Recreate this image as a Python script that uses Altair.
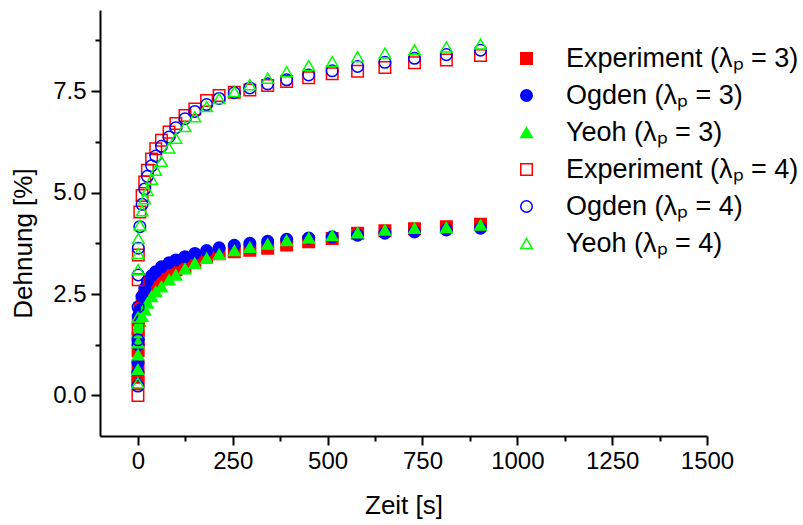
import altair as alt
import pandas as pd

# Measurement times [s] shared by all series
time_s = [0, 0.25, 0.5, 0.75, 1, 5, 11, 18, 25, 36, 47, 62, 82, 100, 124, 150,
          181, 214, 254, 295, 342, 392, 450, 512, 579, 651, 729, 813, 903]

# Strain [%] for pre-stretch lambda_p = 3
exp_3 = [0.45, 0.72, 1.10, 1.40, 1.85, 2.15, 2.32, 2.44, 2.56, 2.68, 2.78, 2.91, 3.03, 3.10, 3.18,
         3.30, 3.42, 3.49, 3.54, 3.58, 3.63, 3.71, 3.79, 3.87, 4.00, 4.06, 4.11, 4.16, 4.22]
ogden_3 = [0.56, 0.81, 1.25, 1.40, 1.95, 2.11, 2.44, 2.64, 2.81, 2.95, 3.05, 3.17, 3.27, 3.34, 3.42,
           3.50, 3.57, 3.64, 3.70, 3.75, 3.80, 3.85, 3.88, 3.91, 3.95, 4.00, 4.03, 4.08, 4.12]
yeoh_3 = [0.64, 1.00, 1.30, 1.55, 1.70, 1.82, 1.95, 2.11, 2.28, 2.44, 2.56, 2.68, 2.85, 2.97, 3.12,
          3.26, 3.38, 3.48, 3.57, 3.65, 3.73, 3.82, 3.88, 3.94, 4.01, 4.08, 4.12, 4.14, 4.20]

# Strain [%] for pre-stretch lambda_p = 4
exp_4 = [0.00, 0.32, 1.64, 2.85, 3.46, 4.52, 4.93, 5.26, 5.55, 5.83, 6.08, 6.29, 6.49, 6.70, 6.90,
         7.06, 7.27, 7.39, 7.47, 7.53, 7.64, 7.74, 7.83, 7.93, 7.99, 8.08, 8.20, 8.27, 8.38]
ogden_4 = [0.23, 1.37, 2.18, 2.97, 3.63, 4.16, 4.71, 5.09, 5.40, 5.66, 5.90, 6.14, 6.37, 6.60, 6.82,
           7.00, 7.17, 7.32, 7.46, 7.58, 7.68, 7.78, 7.90, 8.00, 8.11, 8.21, 8.31, 8.40, 8.51]
yeoh_4 = [0.31, 1.93, 3.10, 3.50, 3.87, 4.20, 4.55, 4.85, 5.05, 5.33, 5.55, 5.77, 6.10, 6.34, 6.63,
          6.87, 7.12, 7.32, 7.49, 7.66, 7.82, 7.98, 8.13, 8.23, 8.35, 8.44, 8.52, 8.59, 8.66]

labels = [
    "Experiment (λₚ = 3)",
    "Ogden (λₚ = 3)",
    "Yeoh (λₚ = 3)",
    "Experiment (λₚ = 4)",
    "Ogden (λₚ = 4)",
    "Yeoh (λₚ = 4)",
]
series_values = [exp_3, ogden_3, yeoh_3, exp_4, ogden_4, yeoh_4]

shapes = ["square", "circle", "triangle-up", "square", "circle", "triangle-up"]
sizes = [132, 133, 196, 132, 133, 196]
strokes = ["#ff0000", "#0000ff", "#00ff00", "#ff0000", "#0000ff", "#00ff00"]
fills = ["#ff0000", "#0000ff", "#00ff00", "transparent", "transparent", "transparent"]

rows = []
for order, (name, vals) in enumerate(zip(labels, series_values)):
    for t, v in zip(time_s, vals):
        rows.append({"series": name, "t": t, "v": v, "k": order})
df = pd.DataFrame(rows)

FONT = "Liberation Sans"

x_ticks = [i * 125 for i in range(0, 13)]
y_ticks = [0, 1.25, 2.5, 3.75, 5, 6.25, 7.5, 8.75]

legend = alt.Legend(
    title=None,
    orient="none",
    legendX=413,
    legendY=35,
    labelFont=FONT,
    labelFontSize=27,
    labelColor="black",
    labelLimit=500,
    labelOffset=26,
    rowPadding=9,
    symbolStrokeWidth=1.5,
    symbolOpacity=1,
)

x_axis = alt.Axis(
    values=x_ticks,
    title="Zeit [s]",
    labelExpr="datum.value % 250 === 0 ? datum.label : ''",
    format="d",
    tickSize={"condition": {"test": "datum.value % 250 !== 0", "value": 5}, "value": 9},
    labelPadding=4,
    titlePadding=19,
)
y_axis = alt.Axis(
    values=y_ticks,
    title="Dehnung [%]",
    format=".1f",
    labelExpr="datum.value % 2.5 === 0 ? datum.label : ''",
    tickSize={"condition": {"test": "datum.value % 2.5 !== 0", "value": 5}, "value": 9},
    labelPadding=5,
    titlePadding=16,
    titleY=233,
)

scale_kw = dict(domain=labels)

chart = (
    alt.Chart(df)
    .mark_point(opacity=1, strokeWidth=1.5)
    .encode(
        x=alt.X("t:Q", scale=alt.Scale(domain=[-100, 1500], nice=False, zero=False), axis=x_axis),
        y=alt.Y("v:Q", scale=alt.Scale(domain=[-1, 9.5], nice=False, zero=False), axis=y_axis),
        shape=alt.Shape("series:N", scale=alt.Scale(range=shapes, **scale_kw), legend=legend),
        stroke=alt.Stroke("series:N", scale=alt.Scale(range=strokes, **scale_kw), legend=legend),
        fill=alt.Fill("series:N", scale=alt.Scale(range=fills, **scale_kw), legend=legend),
        size=alt.Size("series:N", scale=alt.Scale(range=sizes, **scale_kw), legend=legend),
        order=alt.Order("k:Q"),
    )
    .properties(
        width=607,
        height=426,
        autosize="none",
        padding={"left": 100, "top": 10, "right": 96, "bottom": 89},
        background="white",
    )
    .configure_view(stroke=None)
    .configure_axis(
        grid=False,
        domainColor="black",
        domainWidth=2,
        tickColor="black",
        tickWidth=2,
        labelFont=FONT,
        labelFontSize=24,
        labelColor="black",
        labelOverlap=False,
        labelFlush=False,
        titleFont=FONT,
        titleFontSize=26,
        titleFontWeight="normal",
        titleColor="black",
    )
)

chart.save("out.html", embed_options={"renderer": "svg", "actions": False})
